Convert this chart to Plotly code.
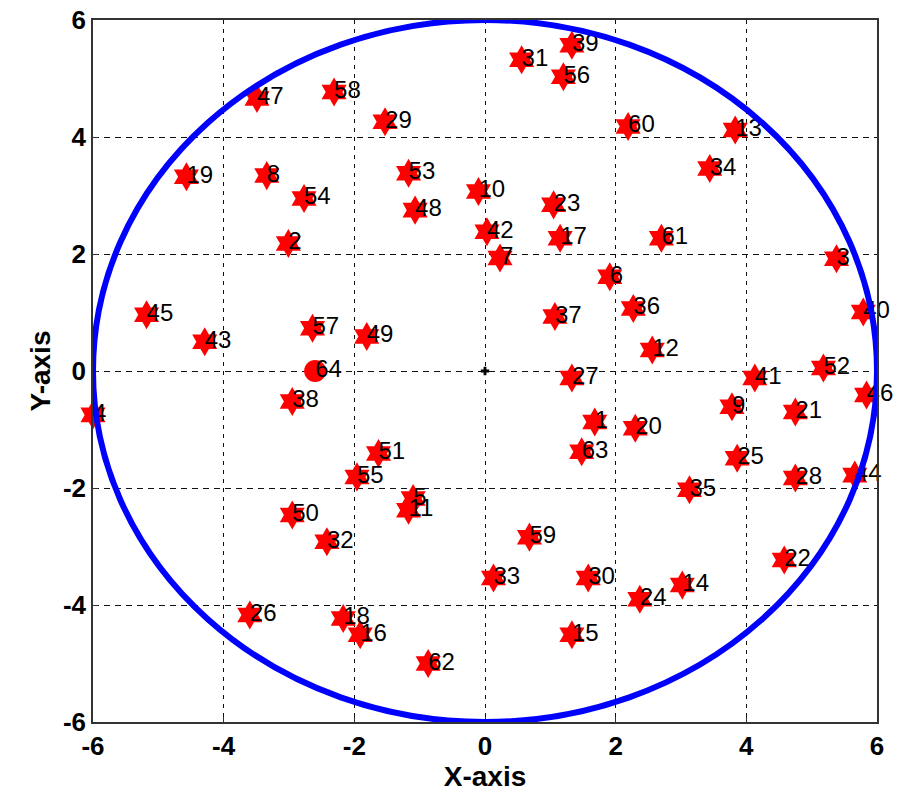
import plotly.graph_objects as go

# Node coordinates
node_ids = list(range(1, 64))
node_x = [1.68, -3.01, 5.38, -6.00, -1.10, 1.91, 0.23, -3.34, 3.78, -0.10,
          -1.17, 2.56, 3.83, 3.02, 1.33, -1.91, 1.15, -2.17, -4.57, 2.30,
          4.75, 4.58, 1.05, 2.37, 3.86, -3.60, 1.33, 4.75, -1.53, 1.58,
          0.56, -2.42, 0.13, 3.44, 3.13, 2.27, 1.07, -2.95, 1.33, 5.79,
          4.13, 0.03, -4.29, 5.66, -5.18, 5.84, -3.49, -1.07, -1.81, -2.95,
          -1.63, 5.18, -1.17, -2.77, -1.96, 1.20, -2.64, -2.31, 0.68, 2.19,
          2.70, -0.87, 1.48]
node_y = [-0.87, 2.18, 1.92, -0.75, -2.18, 1.61, 1.93, 3.34, -0.61, 3.07,
          -2.38, 0.36, 4.12, -3.66, -4.51, -4.51, 2.27, -4.23, 3.32, -0.98,
          -0.70, -3.23, 2.84, -3.90, -1.49, -4.17, -0.12, -1.83, 4.26, -3.54,
          5.32, -2.92, -3.54, 3.46, -2.03, 1.07, 0.93, -0.52, 5.57, 1.01,
          -0.12, 2.38, 0.50, -1.78, 0.96, -0.41, 4.66, 2.75, 0.59, -2.46,
          -1.41, 0.05, 3.38, 2.95, -1.81, 5.03, 0.73, 4.77, -2.84, 4.18,
          2.27, -5.00, -1.38]

# Special node (circle marker)
special_id = 64
special_x = [-2.60]
special_y = [0.00]

# Boundary circle
circle_radius = 6.0
center_x = [0.0]
center_y = [0.0]

tick_vals = [-6, -4, -2, 0, 2, 4, 6]
tick_text = ["-6", "-4", "-2", "0", "2", "4", "6"]

fig = go.Figure()

# Boundary circle as a shape in data coords
fig.add_shape(type="circle", xref="x", yref="y",
              x0=center_x[0] - circle_radius, y0=center_y[0] - circle_radius,
              x1=center_x[0] + circle_radius, y1=center_y[0] + circle_radius,
              line=dict(color="#0000FF", width=6), layer="above")

# Origin marker
fig.add_trace(go.Scatter(x=center_x, y=center_y, mode="markers",
                         marker=dict(symbol="cross", size=7, color="black"),
                         hoverinfo="skip", showlegend=False))

# Star nodes
fig.add_trace(go.Scatter(x=node_x, y=node_y, mode="markers",
                         marker=dict(symbol="hexagram", size=22, color="#FF0000",
                                     line=dict(width=0)),
                         cliponaxis=False, showlegend=False))

# Special circle node
fig.add_trace(go.Scatter(x=special_x, y=special_y, mode="markers",
                         marker=dict(symbol="circle", size=22, color="#FF0000",
                                     line=dict(width=0)),
                         cliponaxis=False, showlegend=False))

# Labels
fig.add_trace(go.Scatter(x=node_x + special_x, y=node_y + special_y, mode="text",
                         text=[str(i) for i in node_ids] + [str(special_id)],
                         textposition="middle right",
                         textfont=dict(family="Liberation Sans, Arial", size=24,
                                       color="black"),
                         cliponaxis=False, showlegend=False, hoverinfo="skip"))

axis_common = dict(
    range=[-6, 6], tickvals=tick_vals, ticktext=tick_text,
    showgrid=True, gridcolor="#111111", gridwidth=1.3,
    zeroline=False, showline=True, linecolor="#333333", linewidth=1.5,
    mirror=True, ticks="inside", ticklen=5, tickcolor="#333333",
    automargin=False, ticklabeloverflow="allow",
    tickfont=dict(family="Liberation Sans, Arial", size=26, color="black",
                  weight="bold"),
    title_font=dict(family="Liberation Sans, Arial", size=28, color="black",
                    weight="bold"),
)

fig.update_xaxes(**axis_common, griddash="4px,5px", title_text="X-axis",
                 title_standoff=2)
fig.update_yaxes(**axis_common, griddash="6px,5px", title_text="Y-axis",
                 title_standoff=4)

fig.update_layout(
    width=900, height=800,
    margin=dict(l=93, r=23, t=20, b=78),
    plot_bgcolor="white", paper_bgcolor="white",
    showlegend=False,
)

# Remove the default 8px page margin so the figure fills the window exactly.
fig.write_html("out.html",
               config={"displayModeBar": False},
               post_script="document.body.style.margin='0';"
                           "document.body.style.overflow='hidden';")
